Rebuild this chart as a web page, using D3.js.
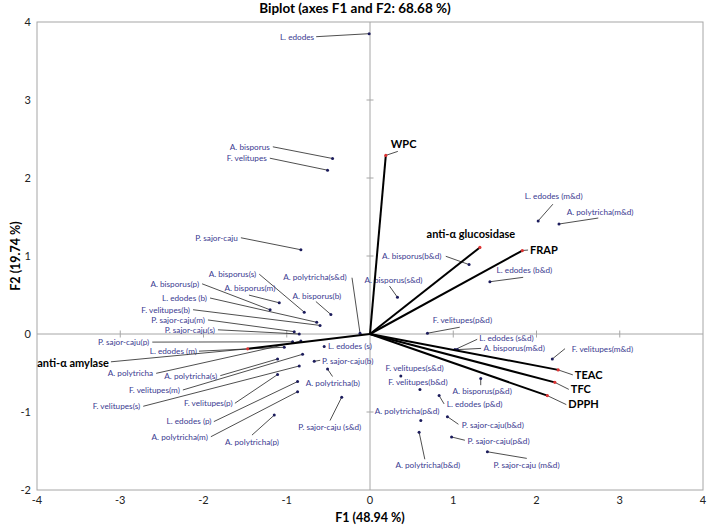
<!DOCTYPE html>
<html><head><meta charset="utf-8">
<script src="https://cdn.jsdelivr.net/npm/d3@7"></script>
<style>body{margin:0;background:#fff} svg{display:block} text{font-family:Lato,'Noto Sans',sans-serif}</style>
</head><body><svg id="c" width="707" height="525"></svg>
<script>
const title = "Biplot (axes F1 and F2: 68.68 %)";
const xTitle = "F1 (48.94 %)";
const yTitle = "F2 (19.74 %)";
const xTicks = [-4,-3,-2,-1,0,1,2,3,4];
const yTicks = [-2,-1,0,1,2,3,4];

const obsNames = ["L. edodes","A. bisporus","F. velitupes","P. sajor-caju","A. bisporus(s)","A. bisporus(m)","A. bisporus(b)","A. polytricha(s&d)","A. bisporus(p)","L. edodes (b)","F. velitupes(b)","P. sajor-caju(m)","P. sajor-caju(s)","P. sajor-caju(p)","L. edodes (m)","A. polytricha","A. polytricha(s)","F. velitupes(m)","F. velitupes(s)","F. velitupes(p)","L. edodes (p)","A. polytricha(m)","A. polytricha(p)","L. edodes (s)","P. sajor-caju(b)","A. polytricha(b)","P. sajor-caju (s&d)","A. bisporus(b&d)","L. edodes (b&d)","A. bisporus(s&d)","F. velitupes(p&d)","L. edodes (s&d)","A. bisporus(m&d)","F. velitupes(s&d)","F. velitupes(b&d)","A. bisporus(p&d)","L. edodes (p&d)","A. polytricha(p&d)","A. polytricha(b&d)","P. sajor-caju(b&d)","P. sajor-caju(p&d)","P. sajor-caju (m&d)","F. velitupes(m&d)","L. edodes (m&d)","A. polytricha(m&d)"];
const obsF1 = [-0.01,-0.45,-0.51,-0.83,-0.79,-1.09,-0.47,-0.12,-1.20,-0.64,-0.60,-0.91,-0.85,-0.93,-1.03,-0.83,-1.11,-0.81,-0.85,-1.11,-0.87,-0.87,-1.15,-0.55,-0.67,-0.51,-0.34,1.19,1.44,0.33,0.69,1.02,1.05,0.37,0.60,1.33,0.83,0.61,0.59,0.93,0.98,1.41,2.19,2.02,2.27];
const obsF2 = [3.85,2.25,2.10,1.08,0.28,0.40,0.25,0.01,0.31,0.15,0.11,0.03,0.00,-0.10,-0.17,-0.09,-0.32,-0.26,-0.41,-0.52,-0.61,-0.74,-1.04,-0.16,-0.35,-0.45,-0.81,0.89,0.67,0.47,0.01,-0.20,-0.20,-0.54,-0.71,-0.57,-0.79,-1.11,-1.26,-1.06,-1.32,-1.51,-0.32,1.45,1.41];

const varNames = ["WPC","anti-α glucosidase","FRAP","anti-α amylase","TEAC","TFC","DPPH"];
const varF1 = [0.19,1.32,1.83,-1.47,2.26,2.22,2.13];
const varF2 = [2.29,1.11,1.07,-0.19,-0.46,-0.62,-0.79];

// label layout: [text-anchor, text dx, text dy, leader-start dx, leader-start dy] (px offsets from the mark)
const obsLabelLayout = [
 ['end',-55,3,-53,3],['end',-62.7,-11.7,-59.7,-11.7],['end',-60.7,-12,-57.7,-12],['end',-63,-12,-60,-12],
 ['end',-48,-38,-45,-38],['middle',-29.3,-14.7,-30.3,-7.7],['middle',-14,-18.7,-15,-13],['end',-13.3,-56.5,-8,-55.5],
 ['end',-71,-26,-68,-26],['end',-109.7,-24.3,-106.7,-24.3],['end',-130,-15.7,-127,-15.7],['end',-89.3,-11.7,-86.3,-11.7],
 ['end',-84.3,-4.2,-81.3,-4.2],['end',-143.3,0.3,-140.3,0.3],['end',-87.3,3.9,-85.3,3.9],['end',-147.7,32.3,-144.7,32.3],
 ['end',-60.3,16.7,-57.3,16.7],['end',-122.7,35.7,-119.7,35.7],['end',-159,40.3,-156,40.3],['end',-45,28.7,-42.7,28.7],
 ['end',-86,40,-83.7,40],['end',-89.7,45,-86.7,45],['middle',-22.3,26.7,-22.3,20],['start',3.7,0,null,null],
 ['start',7.7,0,6,-1],['middle',5.3,13.7,5,7.4],['middle',-11.9,30.4,-11.7,23.4],['end',-27.6,-8.3,-23.3,-8.3],
 ['start',6.7,-11.7,33.3,-4.4],['middle',-4,-17.3,-8,-11.3],['middle',35,-12.6,32.3,-6],['start',24.3,-11,22.3,-10.3],
 ['start',26,-1.2,23.7,-1.2],['start',-15.3,-8,null,null],['start',-31.7,-7,null,null],['middle',1.5,12.7,0,6.7],
 ['start',7.7,8.6,5,8.3],['start',-46,-9.7,null,null],['middle',8.7,32.7,5.7,27],['start',14.4,8.3,11,7.6],
 ['start',16,4,13.3,3.3],['start',6,13.3,39.4,6.6],['start',19.4,-10.3,12.7,-10.3],['start',-13.3,-24.7,14.7,-16.7],
 ['start',7.7,-12.3,39.3,-6]
];
const varLabelLayout = [
 ['start',5,-11.7,12,-4],['middle',-9,-13,null,null],['start',7.7,-0.5,5.7,-0.5],['end',-138.7,14,-136.7,13],
 ['start',16.7,5,14.7,5],['start',16,7,14,7],['start',21,9,19,9]
];

const svg = d3.select('#c');
const x = d3.scaleLinear().domain([-4,4]).range([37,703]);
const y = d3.scaleLinear().domain([-2,4]).range([490,22]);
const grey = '#a6a6a6';

svg.append('rect').attr('x',x(-4)).attr('y',y(4)).attr('width',x(4)-x(-4)).attr('height',y(-2)-y(4))
  .attr('fill','none').attr('stroke',grey).attr('stroke-width',1);
svg.append('line').attr('x1',x(-4)).attr('x2',x(4)).attr('y1',y(0)).attr('y2',y(0)).attr('stroke',grey);
svg.append('line').attr('x1',x(0)).attr('x2',x(0)).attr('y1',y(-2)).attr('y2',y(4)).attr('stroke',grey);
xTicks.filter(t=>t>-4&&t<4&&t!==0).forEach(t=>svg.append('line').attr('x1',x(t)).attr('x2',x(t)).attr('y1',y(0)-3.5).attr('y2',y(0)+3.5).attr('stroke',grey));
yTicks.filter(t=>t>-2&&t<4&&t!==0).forEach(t=>svg.append('line').attr('y1',y(t)).attr('y2',y(t)).attr('x1',x(0)-3.5).attr('x2',x(0)+3.5).attr('stroke',grey));

svg.append('g').selectAll('text').data(xTicks).join('text')
  .attr('x',d=>x(d)).attr('y',500).attr('dy','0.35em').attr('text-anchor','middle')
  .attr('font-size',11).attr('fill','#222').text(d=>d);
svg.append('g').selectAll('text').data(yTicks).join('text')
  .attr('x',31).attr('y',d=>y(d)).attr('dy','0.35em').attr('text-anchor','end')
  .attr('font-size',11).attr('fill','#222').text(d=>d);

svg.append('text').attr('x',355).attr('y',8).attr('dy','0.35em').attr('text-anchor','middle')
  .attr('font-size',13.5).attr('font-weight','bold').text(title);
svg.append('text').attr('x',370).attr('y',518).attr('dy','0.35em').attr('text-anchor','middle')
  .attr('font-size',12.5).attr('font-weight','bold').text(xTitle);
svg.append('text').attr('transform','translate(16,256) rotate(-90)').attr('dy','0.35em').attr('text-anchor','middle')
  .attr('font-size',12.5).attr('font-weight','bold').text(yTitle);

const obs = obsNames.map((n,i)=>({n, px:x(obsF1[i]), py:y(obsF2[i]), L:obsLabelLayout[i]}));
const vars = varNames.map((n,i)=>({n, px:x(varF1[i]), py:y(varF2[i]), L:varLabelLayout[i]}));

svg.append('g').selectAll('line').data(obs.filter(d=>d.L[3]!==null)).join('line')
  .attr('x1',d=>d.px+d.L[3]).attr('y1',d=>d.py+d.L[4]).attr('x2',d=>d.px).attr('y2',d=>d.py)
  .attr('stroke','#222').attr('stroke-width',0.8);
svg.append('g').selectAll('circle').data(obs).join('circle')
  .attr('cx',d=>d.px).attr('cy',d=>d.py).attr('r',1.5).attr('fill','#1c1c5c');
svg.append('g').selectAll('text').data(obs).join('text')
  .attr('x',d=>d.px+d.L[1]).attr('y',d=>d.py+d.L[2]).attr('dy','0.35em').attr('text-anchor',d=>d.L[0])
  .attr('font-size',8.2).attr('fill','#3a3a90').text(d=>d.n);

svg.append('g').selectAll('line').data(vars).join('line')
  .attr('x1',x(0)).attr('y1',y(0)).attr('x2',d=>d.px).attr('y2',d=>d.py)
  .attr('stroke','#000').attr('stroke-width',2);
svg.append('g').selectAll('line').data(vars.filter(d=>d.L[3]!==null)).join('line')
  .attr('x1',d=>d.px+d.L[3]).attr('y1',d=>d.py+d.L[4]).attr('x2',d=>d.px).attr('y2',d=>d.py)
  .attr('stroke','#222').attr('stroke-width',0.8);
svg.append('g').selectAll('circle').data(vars).join('circle')
  .attr('cx',d=>d.px).attr('cy',d=>d.py).attr('r',1.6).attr('fill','#d33');
svg.append('g').selectAll('text').data(vars).join('text')
  .attr('x',d=>d.px+d.L[1]).attr('y',d=>d.py+d.L[2]).attr('dy','0.35em').attr('text-anchor',d=>d.L[0])
  .attr('font-size',11).attr('font-weight','bold').attr('fill','#000').text(d=>d.n);
</script></body></html>
